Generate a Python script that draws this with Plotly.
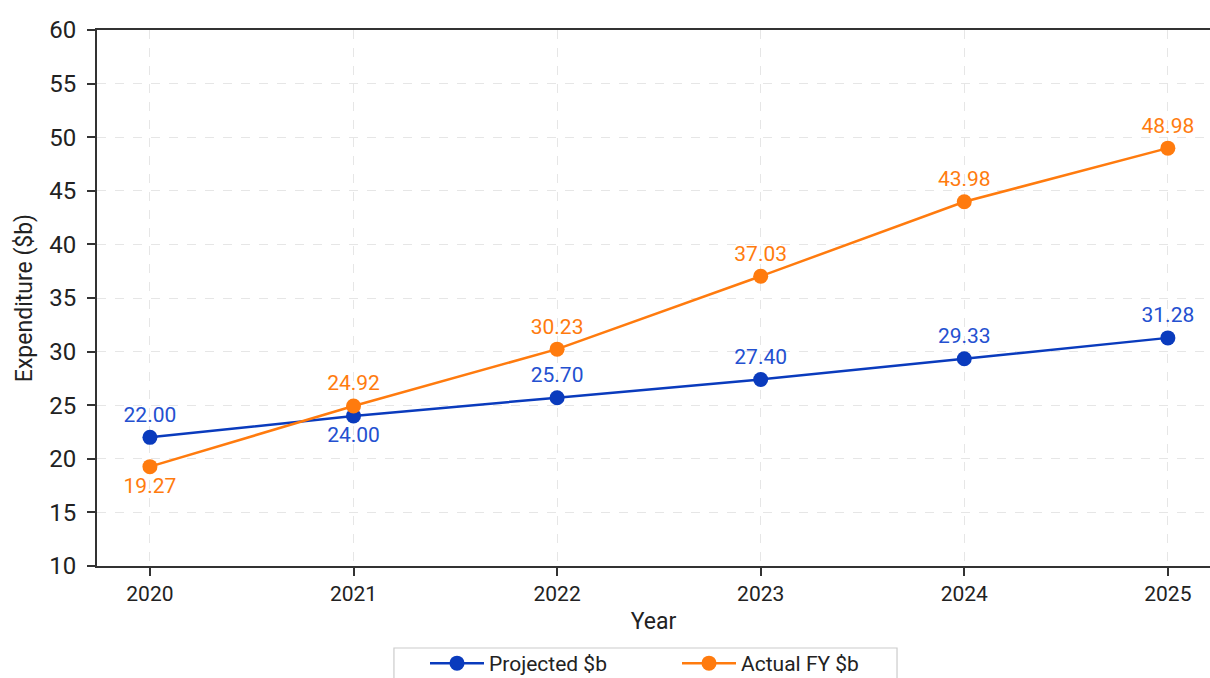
import plotly.graph_objects as go

years = [2020, 2021, 2022, 2023, 2024, 2025]
projected = [22.00, 24.00, 25.70, 27.40, 29.33, 31.28]
actual = [19.27, 24.92, 30.23, 37.03, 43.98, 48.98]

projected_pos = ["top center", "bottom center", "top center", "top center", "top center", "top center"]
actual_pos = ["bottom center", "top center", "top center", "top center", "top center", "top center"]

BLUE = "#0a3bbd"
BLUE_TXT = "#2450d0"
ORANGE = "#ff7b0e"
FONT = "Roboto, Inter, sans-serif"

fig = go.Figure()
fig.add_trace(go.Scatter(
    x=years, y=projected, name="Projected $b",
    mode="lines+markers+text",
    line=dict(color=BLUE, width=2.5),
    marker=dict(color=BLUE, size=15),
    text=[f"{v:.2f}" for v in projected],
    textposition=projected_pos,
    textfont=dict(color=BLUE_TXT, size=21, family=FONT),
    cliponaxis=False,
))
fig.add_trace(go.Scatter(
    x=years, y=actual, name="Actual FY $b",
    mode="lines+markers+text",
    line=dict(color=ORANGE, width=2.5),
    marker=dict(color=ORANGE, size=15),
    text=[f"{v:.2f}" for v in actual],
    textposition=actual_pos,
    textfont=dict(color=ORANGE, size=21, family=FONT),
    cliponaxis=False,
))

# legend frame, drawn separately so the entries sit with wider inner padding
fig.add_shape(
    type="rect", xref="paper", yref="paper",
    x0=0.2668, x1=0.7188, y0=-0.153, y1=-0.25,
    line=dict(color="#cccccc", width=1.2), fillcolor="white", layer="below",
)

fig.update_layout(
    width=1210, height=678,
    margin=dict(l=97, r=0, t=30, b=112, autoexpand=False),
    paper_bgcolor="white",
    plot_bgcolor="white",
    font=dict(family=FONT, color="#222222"),
    legend=dict(
        orientation="h", x=0.2947, xanchor="left", y=-0.1437, yanchor="top",
        bgcolor="rgba(0,0,0,0)", borderwidth=0,
        font=dict(size=21, family=FONT, color="#222222"),
        itemwidth=54, entrywidthmode="pixels", entrywidth=183,
    ),
    xaxis=dict(
        title=dict(text="Year", font=dict(size=23), standoff=8),
        range=[2019.74, 2025.207],
        tickmode="array", tickvals=years, ticktext=[str(y) for y in years],
        tickfont=dict(size=21),
        showline=True, linecolor="#333333", linewidth=2, mirror=True,
        ticks="outside", ticklen=8, tickcolor="#333333", tickwidth=1.5,
        showgrid=True, gridcolor="#e6e6e6", griddash="dash", gridwidth=1,
        zeroline=False,
    ),
    yaxis=dict(
        title=dict(text="Expenditure ($b)", font=dict(size=23), standoff=10),
        range=[10, 60], dtick=5,
        tickfont=dict(size=24),
        ticklabelstandoff=6,
        showline=True, linecolor="#333333", linewidth=2,
        ticks="outside", ticklen=8, tickcolor="#333333", tickwidth=1.5,
        showgrid=True, gridcolor="#e6e6e6", griddash="dash", gridwidth=1,
        zeroline=False,
    ),
)

fig.write_html("out.html")
